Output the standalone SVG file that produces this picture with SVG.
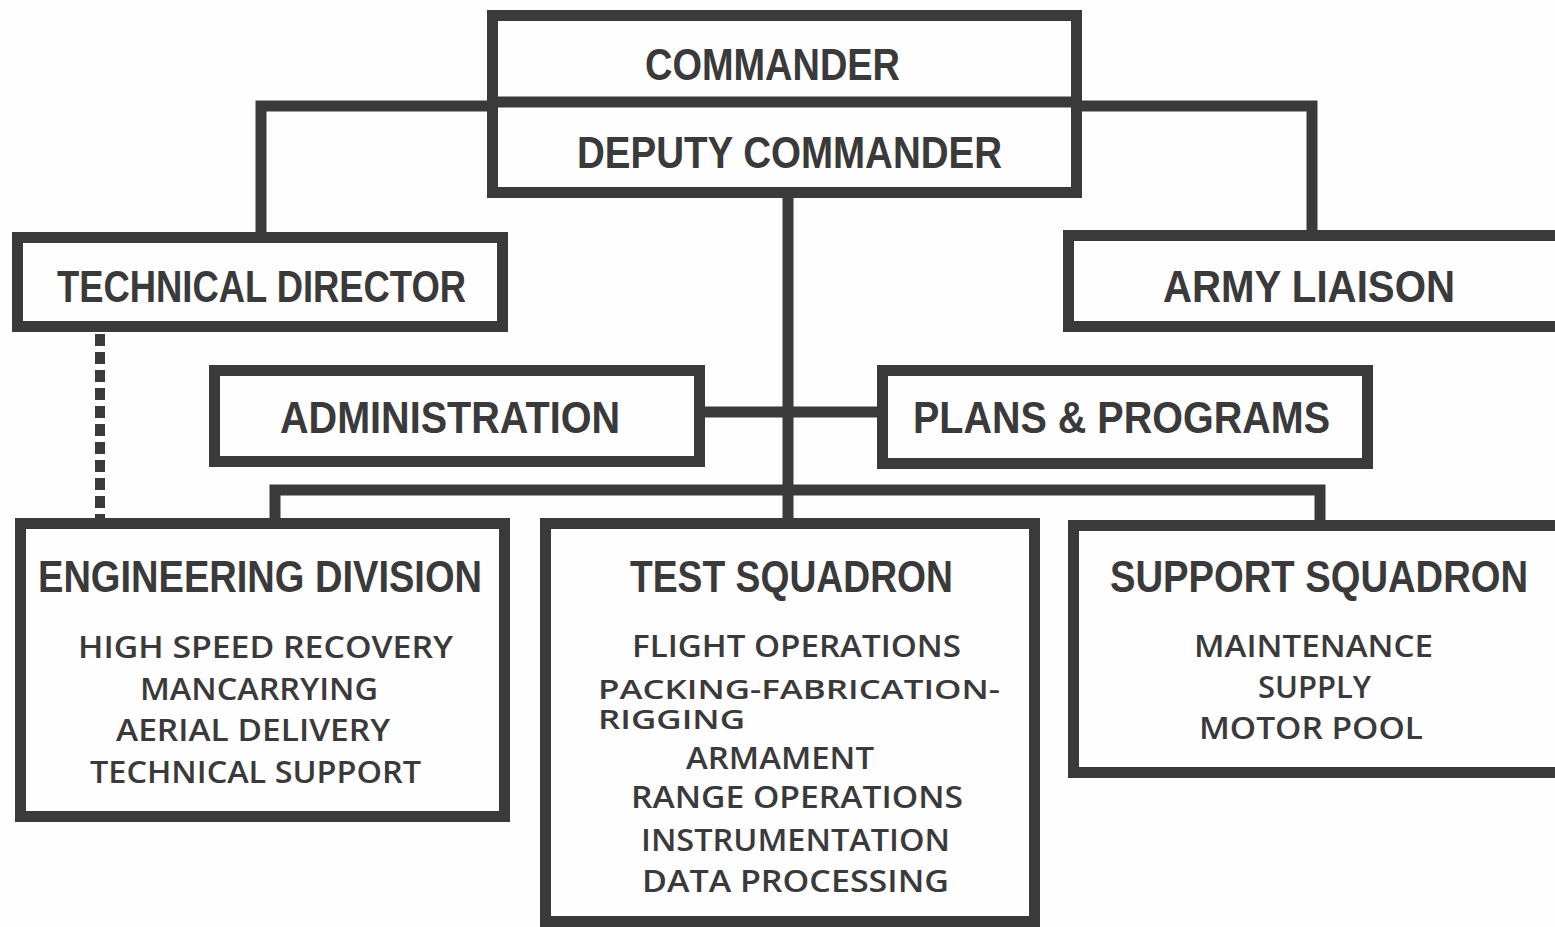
<svg xmlns="http://www.w3.org/2000/svg" width="1555" height="927" viewBox="0 0 1555 927">
<style>
.box{fill:none;stroke:#3a3a3a;stroke-width:11}
.ln{fill:none;stroke:#3a3a3a;stroke-width:11}
.dash{fill:none;stroke:#3a3a3a;stroke-width:10;stroke-dasharray:12 6}
.t{font-family:"Liberation Sans",Arial,sans-serif;font-weight:900;font-size:44px;fill:#3a3a3a;text-anchor:start}
.s{font-family:"Open Sans","Liberation Sans",sans-serif;font-weight:600;font-size:30px;fill:#3a3a3a;text-anchor:start}
.sm{font-size:27px}
</style>
<rect width="1555" height="927" fill="#fefefe"/>
<g id="connectors">
<path class="ln" d="M261 237 V106 H492"/>
<path class="ln" d="M1077 106 H1312 V235"/>
<path class="ln" d="M788 192 V523"/>
<path class="ln" d="M698 412 H882"/>
<path class="ln" d="M275 523 V490 H1320 V525"/>
<path class="dash" d="M100 334 V518"/>
</g>
<g id="commander">
<rect class="box" x="492.5" y="15.5" width="584" height="177"/>
<line class="ln" x1="492" y1="102" x2="1077" y2="102"/>
<text class="t" x="645" y="80" textLength="255" lengthAdjust="spacingAndGlyphs">COMMANDER</text>
<text class="t" x="577" y="168" textLength="425" lengthAdjust="spacingAndGlyphs">DEPUTY COMMANDER</text>
</g>
<g id="technical-director">
<rect class="box" x="17.5" y="237.5" width="485" height="89"/>
<text class="t" x="57" y="302" textLength="409" lengthAdjust="spacingAndGlyphs">TECHNICAL DIRECTOR</text>
</g>
<g id="army-liaison">
<rect class="box" x="1068.5" y="235.5" width="495" height="91"/>
<text class="t" x="1163" y="302" textLength="292" lengthAdjust="spacingAndGlyphs">ARMY LIAISON</text>
</g>
<g id="administration">
<rect class="box" x="214.5" y="370.5" width="485" height="91"/>
<text class="t" x="280" y="433" textLength="340" lengthAdjust="spacingAndGlyphs">ADMINISTRATION</text>
</g>
<g id="plans-programs">
<rect class="box" x="882.5" y="370.5" width="485" height="93"/>
<text class="t" x="913" y="433" textLength="417" lengthAdjust="spacingAndGlyphs">PLANS &amp; PROGRAMS</text>
</g>
<g id="engineering-division">
<rect class="box" x="20.5" y="523.5" width="484" height="293"/>
<text class="t" x="38" y="592" textLength="444" lengthAdjust="spacingAndGlyphs">ENGINEERING DIVISION</text>
<text class="s" x="78" y="658" textLength="375" lengthAdjust="spacingAndGlyphs">HIGH SPEED RECOVERY</text>
<text class="s" x="140" y="700" textLength="238" lengthAdjust="spacingAndGlyphs">MANCARRYING</text>
<text class="s" x="116" y="741" textLength="274" lengthAdjust="spacingAndGlyphs">AERIAL DELIVERY</text>
<text class="s" x="90" y="783" textLength="331" lengthAdjust="spacingAndGlyphs">TECHNICAL SUPPORT</text>
</g>
<g id="test-squadron">
<rect class="box" x="545.5" y="523.5" width="489" height="398"/>
<text class="t" x="630" y="592" textLength="323" lengthAdjust="spacingAndGlyphs">TEST SQUADRON</text>
<text class="s" x="632" y="657" textLength="329" lengthAdjust="spacingAndGlyphs">FLIGHT OPERATIONS</text>
<text class="s sm" x="598" y="699" textLength="402" lengthAdjust="spacingAndGlyphs">PACKING-FABRICATION-</text>
<text class="s sm" x="598" y="729" textLength="147" lengthAdjust="spacingAndGlyphs">RIGGING</text>
<text class="s" x="686" y="769" textLength="188" lengthAdjust="spacingAndGlyphs">ARMAMENT</text>
<text class="s" x="631" y="808" textLength="332" lengthAdjust="spacingAndGlyphs">RANGE OPERATIONS</text>
<text class="s" x="641" y="851" textLength="309" lengthAdjust="spacingAndGlyphs">INSTRUMENTATION</text>
<text class="s" x="642" y="892" textLength="307" lengthAdjust="spacingAndGlyphs">DATA PROCESSING</text>
</g>
<g id="support-squadron">
<rect class="box" x="1073.5" y="525.5" width="490" height="247"/>
<text class="t" x="1110" y="592" textLength="418" lengthAdjust="spacingAndGlyphs">SUPPORT SQUADRON</text>
<text class="s" x="1194" y="657" textLength="239" lengthAdjust="spacingAndGlyphs">MAINTENANCE</text>
<text class="s" x="1258" y="698" textLength="113" lengthAdjust="spacingAndGlyphs">SUPPLY</text>
<text class="s" x="1199" y="739" textLength="224" lengthAdjust="spacingAndGlyphs">MOTOR POOL</text>
</g>
</svg>
